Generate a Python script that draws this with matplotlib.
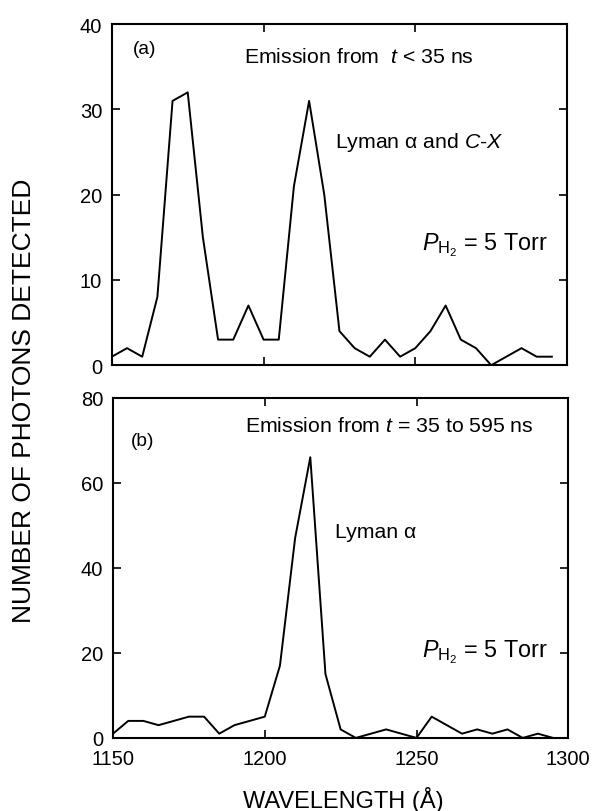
import matplotlib
matplotlib.use("Agg")
import matplotlib.pyplot as plt
import numpy as np

plt.rcParams['font.family'] = ['Liberation Sans', 'DejaVu Sans']
plt.rcParams['mathtext.fontset'] = 'custom'
plt.rcParams['mathtext.rm'] = 'Liberation Sans'
plt.rcParams['mathtext.it'] = 'Liberation Sans:italic'
plt.rcParams['mathtext.bf'] = 'Liberation Sans:bold'

# Data
wavelength_a = [1150, 1155, 1160, 1165, 1170, 1175, 1180, 1185, 1190, 1195,
                1200, 1205, 1210, 1215, 1220, 1225, 1230, 1235, 1240, 1245,
                1250, 1255, 1260, 1265, 1270, 1275, 1280, 1285, 1290, 1295]
counts_a = [1, 2, 1, 8, 31, 32, 15, 3, 3, 7,
            3, 3, 21, 31, 20, 4, 2, 1, 3, 1,
            2, 4, 7, 3, 2, 0, 1, 2, 1, 1]

wavelength_b = wavelength_a
counts_b = [1, 4, 4, 3, 4, 5, 5, 1, 3, 4,
            5, 17, 47, 66, 15, 2, 0, 1, 2, 1,
            0, 5, 3, 1, 2, 1, 2, 0, 1, 0]

xticks = [1150, 1200, 1250, 1300]
yticks_a = [0, 10, 20, 30, 40]
yticks_b = [0, 20, 40, 60, 80]

fig = plt.figure(figsize=(5.95, 8.12), dpi=100)
ax1 = fig.add_axes([0.188, 0.549, 0.765, 0.420])
ax2 = fig.add_axes([0.190, 0.090, 0.765, 0.419])

fs_tick = 14.5
fs_txt = 15.3
fs_p = 16.8

for ax in (ax1, ax2):
    ax.set_xlim(1150, 1300)
    ax.set_xticks(xticks)
    ax.tick_params(direction='in', top=True, right=True, length=6, width=1.2,
                   labelsize=fs_tick)
    ax.tick_params(axis='x', pad=8)
    ax.tick_params(axis='y', pad=7)
    for s in ax.spines.values():
        s.set_linewidth(1.5)

ax1.plot(wavelength_a, counts_a, color='black', lw=1.4)
ax1.set_ylim(0, 40)
ax1.set_yticks(yticks_a)
ax1.tick_params(labelbottom=False)

ax2.plot(wavelength_b, counts_b, color='black', lw=1.4)
ax2.set_ylim(0, 80)
ax2.set_yticks(yticks_b)

# Annotations panel (a)
ax1.text(0.046, 0.93, '(a)', transform=ax1.transAxes, fontsize=13.8,
         ha='left', va='center')
ax1.text(0.543, 0.906, r'Emission from  $t$ < 35 ns', transform=ax1.transAxes,
         fontsize=fs_txt, ha='center', va='center')
ax1.text(0.49, 0.655, r'Lyman α and $C$-$X$', transform=ax1.transAxes,
         fontsize=fs_txt, ha='left', va='center')
ax1.text(0.681, 0.340, r'$P_{\mathrm{H}_2}$ = 5 Torr', transform=ax1.transAxes,
         fontsize=fs_p, ha='left', va='baseline')

# Annotations panel (b)
ax2.text(0.04, 0.874, '(b)', transform=ax2.transAxes, fontsize=13.8,
         ha='left', va='center')
ax2.text(0.606, 0.918, r'Emission from $t$ = 35 to 595 ns', transform=ax2.transAxes,
         fontsize=fs_txt, ha='center', va='center')
ax2.text(0.487, 0.606, 'Lyman α', transform=ax2.transAxes,
         fontsize=fs_txt, ha='left', va='center')
ax2.text(0.678, 0.241, r'$P_{\mathrm{H}_2}$ = 5 Torr', transform=ax2.transAxes,
         fontsize=fs_p, ha='left', va='baseline')

fig.text(0.0395, 0.506, 'NUMBER OF PHOTONS DETECTED', rotation=90,
         fontsize=19, ha='center', va='center')
fig.text(0.577, 0.0148, 'WAVELENGTH (Å)', fontsize=17, ha='center', va='center')

fig.savefig('out.png', dpi=100)
